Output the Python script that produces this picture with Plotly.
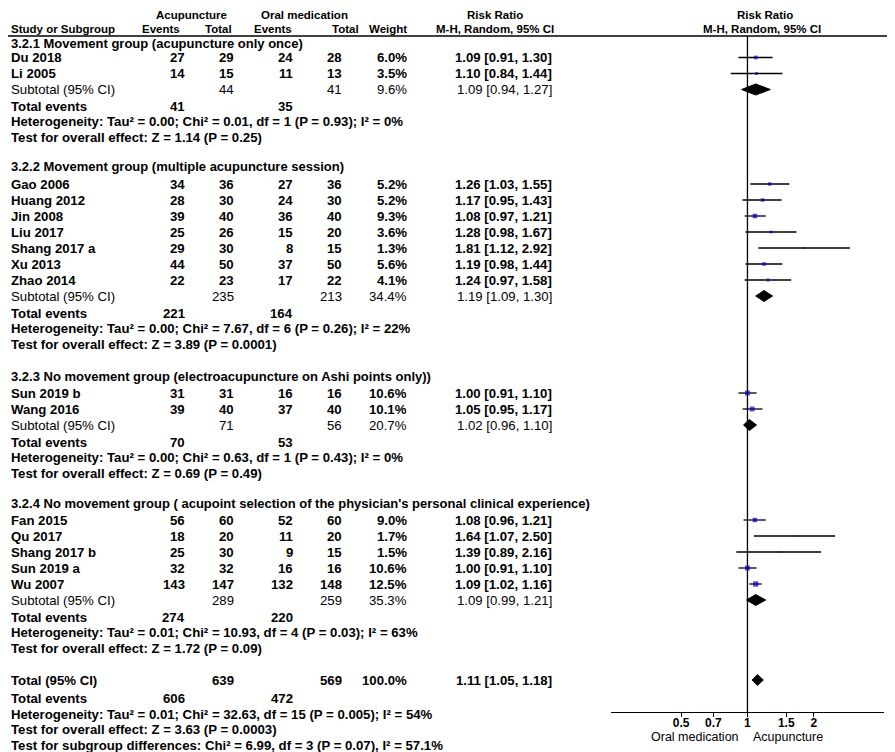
import plotly.graph_objects as go
import math

# ---------------- data ----------------
group_titles = [
    "3.2.1 Movement group (acupuncture only once)",
    "3.2.2 Movement group (multiple acupuncture session)",
    "3.2.3 No movement group (electroacupuncture on Ashi points only))",
    "3.2.4 No movement group ( acupoint selection of the physician's personal clinical experience)",
]
studies = [
    ["Du 2018", "Li 2005"],
    ["Gao 2006", "Huang 2012", "Jin 2008", "Liu 2017", "Shang 2017 a", "Xu 2013", "Zhao 2014"],
    ["Sun 2019 b", "Wang 2016"],
    ["Fan 2015", "Qu 2017", "Shang 2017 b", "Sun 2019 a", "Wu 2007"],
]
ev_acu = [[27, 14], [34, 28, 39, 25, 29, 44, 22], [31, 39], [56, 18, 25, 32, 143]]
tot_acu = [[29, 15], [36, 30, 40, 26, 30, 50, 23], [31, 40], [60, 20, 30, 32, 147]]
ev_oral = [[24, 11], [27, 24, 36, 15, 8, 37, 17], [16, 37], [52, 11, 9, 16, 132]]
tot_oral = [[28, 13], [36, 30, 40, 20, 15, 50, 22], [16, 40], [60, 20, 15, 16, 148]]
weight = [[6.0, 3.5], [5.2, 5.2, 9.3, 3.6, 1.3, 5.6, 4.1], [10.6, 10.1], [9.0, 1.7, 1.5, 10.6, 12.5]]
rr = [[1.09, 1.10], [1.26, 1.17, 1.08, 1.28, 1.81, 1.19, 1.24], [1.00, 1.05], [1.08, 1.64, 1.39, 1.00, 1.09]]
rr_lo = [[0.91, 0.84], [1.03, 0.95, 0.97, 0.98, 1.12, 0.98, 0.97], [0.91, 0.95], [0.96, 1.07, 0.89, 0.91, 1.02]]
rr_hi = [[1.30, 1.44], [1.55, 1.43, 1.21, 1.67, 2.92, 1.44, 1.58], [1.10, 1.17], [1.21, 2.50, 2.16, 1.10, 1.16]]

sub_tot_acu = [44, 235, 71, 289]
sub_tot_oral = [41, 213, 56, 259]
sub_weight = ["9.6%", "34.4%", "20.7%", "35.3%"]
sub_rr = [1.09, 1.19, 1.02, 1.09]
sub_lo = [0.94, 1.09, 0.96, 0.99]
sub_hi = [1.27, 1.30, 1.10, 1.21]
sub_ev_acu = [41, 221, 70, 274]
sub_ev_oral = [35, 164, 53, 220]
sub_het = [
    "Heterogeneity: Tau² = 0.00; Chi² = 0.01, df = 1 (P = 0.93); I² = 0%",
    "Heterogeneity: Tau² = 0.00; Chi² = 7.67, df = 6 (P = 0.26); I² = 22%",
    "Heterogeneity: Tau² = 0.00; Chi² = 0.63, df = 1 (P = 0.43); I² = 0%",
    "Heterogeneity: Tau² = 0.01; Chi² = 10.93, df = 4 (P = 0.03); I² = 63%",
]
sub_test = [
    "Test for overall effect: Z = 1.14 (P = 0.25)",
    "Test for overall effect: Z = 3.89 (P = 0.0001)",
    "Test for overall effect: Z = 0.69 (P = 0.49)",
    "Test for overall effect: Z = 1.72 (P = 0.09)",
]
total_tot_acu, total_tot_oral, total_weight = 639, 569, "100.0%"
total_rr, total_lo, total_hi = 1.11, 1.05, 1.18
total_ev_acu, total_ev_oral = 606, 472
total_het = "Heterogeneity: Tau² = 0.01; Chi² = 32.63, df = 15 (P = 0.005); I² = 54%"
total_test = "Test for overall effect: Z = 3.63 (P = 0.0003)"
subgroup_test = "Test for subgroup differences: Chi² = 6.99, df = 3 (P = 0.07), I² = 57.1%"

tick_vals = [0.5, 0.7, 1, 1.5, 2]
tick_text = ["0.5", "0.7", "1", "1.5", "2"]
axis_left_label = "Oral medication"
axis_right_label = "Acupuncture"

# ---------------- layout constants ----------------
OFF = 8                      # page body margin of the html page
SW, SH = 895, 752            # screen size
W, H = SW - OFF, SH - OFF    # figure size
FONT = "Liberation Sans"
BLACK = "#000000"
BLUE = "#0000CC"
FS = 13.2
HFS = 11.5


def px(x):
    return (x - OFF) / W


# column right edges (screen px)
C_EA, C_TA, C_EO, C_TO, C_W, C_RR = 186, 235, 294, 343, 408, 553
X_NAME = 10

# row y positions (screen px, from top)
HDR1, HDR2, RULE = 14.5, 28.5, 36
group_heading_y = [43, 166, 376, 503]
study_y0 = [57.5, 184, 393, 520]
ROW = 16

annotations = []


def txt(x, y, s, anchor="left", bold=True, size=FS, color=BLACK, family=FONT):
    annotations.append(dict(
        x=px(x), y=y, xref="paper", yref="y", text=("<b>%s</b>" % s) if bold else s,
        showarrow=False, xanchor=anchor, yanchor="middle",
        font=dict(family=family, size=size, color=color), borderpad=0,
    ))


def fmt_rr(a, b, c):
    return "%.2f [%.2f, %.2f]" % (a, b, c)


# headers
txt(191, HDR1, "Acupuncture", "center", size=HFS)
txt(304, HDR1, "Oral medication", "center", size=HFS)
txt(495, HDR1, "Risk Ratio", "center", size=HFS)
txt(765, HDR1, "Risk Ratio", "center", size=HFS)
txt(X_NAME, HDR2, "Study or Subgroup", "left", size=HFS)
txt(181, HDR2, "Events", "right", size=HFS)
txt(233, HDR2, "Total", "right", size=HFS)
txt(293, HDR2, "Events", "right", size=HFS)
txt(360, HDR2, "Total", "right", size=HFS)
txt(408, HDR2, "Weight", "right", size=HFS)
txt(495, HDR2, "M-H, Random, 95% CI", "center", size=HFS)
txt(762, HDR2, "M-H, Random, 95% CI", "center", size=HFS)

ci_x, ci_y = [], []
sq_x, sq_y, sq_s = [], [], []
diamonds = []

for g in range(4):
    txt(X_NAME, group_heading_y[g], group_titles[g], "left", size=13)
    for i, name in enumerate(studies[g]):
        y = study_y0[g] + i * ROW
        txt(X_NAME, y, name)
        txt(C_EA, y, str(ev_acu[g][i]), "right")
        txt(C_TA, y, str(tot_acu[g][i]), "right")
        txt(C_EO, y, str(ev_oral[g][i]), "right")
        txt(C_TO, y, str(tot_oral[g][i]), "right")
        txt(C_W, y, "%.1f%%" % weight[g][i], "right")
        txt(C_RR, y, fmt_rr(rr[g][i], rr_lo[g][i], rr_hi[g][i]), "right")
        ci_x += [rr_lo[g][i], rr_hi[g][i], None]
        ci_y += [y, y, None]
        sq_x.append(rr[g][i])
        sq_y.append(y)
        sq_s.append(1.5 * math.sqrt(weight[g][i]))
    ys = study_y0[g] + len(studies[g]) * ROW
    txt(X_NAME, ys, "Subtotal (95% CI)", bold=False, size=13.2)
    txt(C_TA, ys, str(sub_tot_acu[g]), "right", bold=False, size=13.2)
    txt(C_TO, ys, str(sub_tot_oral[g]), "right", bold=False, size=13.2)
    txt(C_W, ys, sub_weight[g], "right", bold=False, size=13.2)
    txt(C_RR, ys, fmt_rr(sub_rr[g], sub_lo[g], sub_hi[g]), "right", bold=False, size=13.2)
    diamonds.append((sub_rr[g], sub_lo[g], sub_hi[g], ys))
    txt(X_NAME, ys + 17, "Total events")
    txt(C_EA, ys + 17, str(sub_ev_acu[g]), "right")
    txt(C_EO, ys + 17, str(sub_ev_oral[g]), "right")
    txt(X_NAME, ys + 32, sub_het[g])
    txt(X_NAME, ys + 48, sub_test[g])

# overall
YT = 680
txt(X_NAME, YT, "Total (95% CI)")
txt(C_TA, YT, str(total_tot_acu), "right")
txt(C_TO, YT, str(total_tot_oral), "right")
txt(C_W, YT, total_weight, "right")
txt(C_RR, YT, fmt_rr(total_rr, total_lo, total_hi), "right")
diamonds.append((total_rr, total_lo, total_hi, YT))
txt(X_NAME, YT + 18, "Total events")
txt(C_EA, YT + 18, str(total_ev_acu), "right")
txt(C_EO, YT + 18, str(total_ev_oral), "right")
txt(X_NAME, YT + 34, total_het)
txt(X_NAME, YT + 49, total_test)
txt(X_NAME, YT + 65, subgroup_test)

# axis labels
txt(695, 737, axis_left_label, "center", bold=False, size=12.5)
txt(788, 737, axis_right_label, "center", bold=False, size=12.5)

fig = go.Figure()
fig.add_trace(go.Scatter(x=[1, 1], y=[RULE, 712], mode="lines",
                         line=dict(color=BLACK, width=1.3), hoverinfo="skip"))
fig.add_trace(go.Scatter(x=ci_x, y=ci_y, mode="lines",
                         line=dict(color=BLACK, width=1.3), hoverinfo="skip"))
fig.add_trace(go.Scatter(x=sq_x, y=sq_y, mode="markers",
                         marker=dict(symbol="square", size=sq_s, color=BLUE,
                                     line=dict(width=0))))
for est, lo, hi, y in diamonds:
    h = 5.5
    fig.add_trace(go.Scatter(x=[lo, est, hi, est, lo], y=[y, y - h, y, y + h, y],
                             mode="lines", fill="toself", fillcolor=BLACK,
                             line=dict(color=BLACK, width=1), hoverinfo="skip"))

fig.update_layout(
    width=W, height=H, margin=dict(l=0, r=0, t=0, b=0, autoexpand=False),
    paper_bgcolor="white", plot_bgcolor="rgba(0,0,0,0)",
    showlegend=False, annotations=annotations,
    shapes=[dict(type="line", xref="paper", yref="y", x0=px(0), x1=px(SW), y0=RULE, y1=RULE,
                 line=dict(color=BLACK, width=1.3))],
    xaxis=dict(type="log", range=[math.log10(0.24), math.log10(4.17)],
               domain=[px(611), px(884)], anchor="free", position=(SH - 712) / H,
               showline=True, linecolor=BLACK, linewidth=1.3, showgrid=False, zeroline=False,
               ticks="outside", ticklen=4, tickcolor=BLACK, tickwidth=1.3,
               ticklabelstandoff=-5,
               tickvals=tick_vals, ticktext=["<b>%s</b>" % t for t in tick_text],
               tickfont=dict(family=FONT, size=12, color=BLACK)),
    yaxis=dict(range=[SH, OFF], domain=[0, 1], visible=False, showgrid=False, zeroline=False),
)

fig.write_html("out.html")
